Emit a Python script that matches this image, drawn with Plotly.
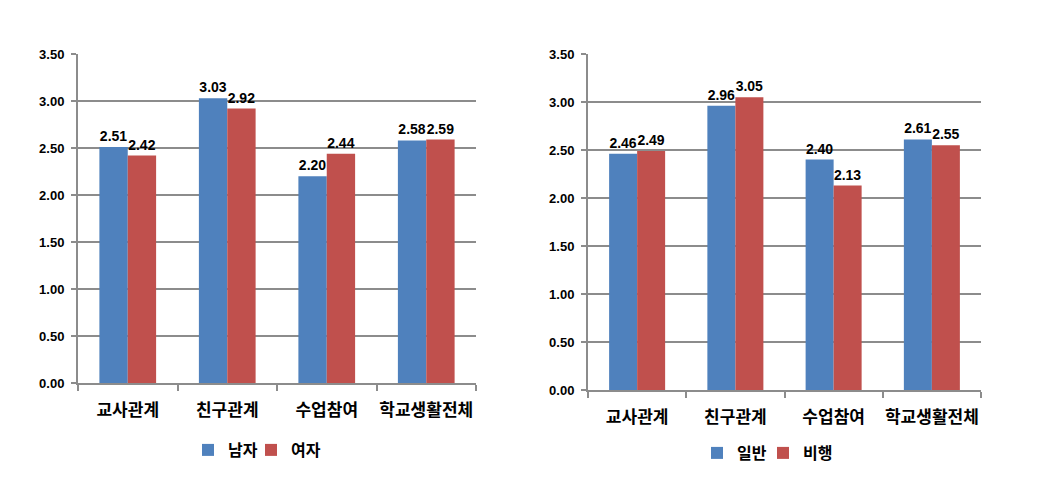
import plotly.graph_objects as go

categories = ["교사관계", "친구관계", "수업참여", "학교생활전체"]
male = [2.51, 3.03, 2.20, 2.58]
female = [2.42, 2.92, 2.44, 2.59]
normal = [2.46, 2.96, 2.40, 2.61]
delinquent = [2.49, 3.05, 2.13, 2.55]
y_ticks = [0, 0.5, 1.0, 1.5, 2.0, 2.5, 3.0, 3.5]

BLUE = "#4F81BD"
RED = "#C0504D"
GRID = "#8c8c8c"
KFONT = "Noto Sans CJK KR"
NFONT = "Liberation Sans"

fig = go.Figure()

def add_bar(name, vals, color, xa, ya, legend):
    fig.add_trace(go.Bar(
        x=categories, y=vals, name=name, marker=dict(color=color, line=dict(width=0)),
        xaxis=xa, yaxis=ya, legend=legend,
        texttemplate="%{y:.2f}", textposition="outside", constraintext="none",
        cliponaxis=False,
        textfont=dict(family=NFONT, size=14, color="black", weight="bold"),
    ))

add_bar("남자", male, BLUE, "x", "y", "legend")
add_bar("여자", female, RED, "x", "y", "legend2")
add_bar("일반", normal, BLUE, "x2", "y2", "legend3")
add_bar("비행", delinquent, RED, "x2", "y2", "legend4")

W, H = 1058, 486

def xaxis(domain, anchor):
    return dict(domain=domain, anchor=anchor, type="category", automargin=False,
                showline=True, linecolor=GRID, linewidth=2, tickangle=0,
                ticks="outside", tickson="boundaries", ticklen=6, tickcolor=GRID, tickwidth=1.5,
                tickfont=dict(family=KFONT, size=17, color="black", weight="bold"),
                ticklabelstandoff=11,
                showgrid=False, fixedrange=True)

def yaxis(domain, anchor):
    return dict(domain=domain, anchor=anchor, range=[0, 3.5], tickvals=y_ticks, automargin=False,
                tickformat=".2f", showline=True, linecolor=GRID, linewidth=2,
                ticks="outside", ticklen=5, tickcolor=GRID, tickwidth=1.5,
                showgrid=True, gridcolor=GRID, gridwidth=1.5, zeroline=False,
                tickfont=dict(family=NFONT, size=13, color="black", weight="bold"),
                ticklabelstandoff=4, fixedrange=True)

legend_common = dict(orientation="h", xanchor="left", yanchor="middle",
                     font=dict(family=KFONT, size=16, color="black", weight="bold"),
                     itemwidth=30, tracegroupgap=0, bgcolor="rgba(0,0,0,0)")

OFF = 14
fig.update_layout(
    width=W, height=H, autosize=False,
    margin=dict(l=0, r=0, t=0, b=0, autoexpand=False),
    paper_bgcolor="white", plot_bgcolor="white",
    barmode="group", bargap=0.43, bargroupgap=0,
    xaxis=xaxis([78 / W, 476 / W], "y"),
    yaxis=yaxis([(H - 383) / H, (H - 54) / H], "x"),
    xaxis2=xaxis([588 / W, 981 / W], "y2"),
    yaxis2=yaxis([(H - 390) / H, (H - 54) / H], "x2"),
    legend=dict(legend_common, x=(202 - OFF) / W, y=1 - 450 / H),
    legend2=dict(legend_common, x=(265 - OFF) / W, y=1 - 450 / H),
    legend3=dict(legend_common, x=(711 - OFF) / W, y=1 - 453 / H),
    legend4=dict(legend_common, x=(777 - OFF) / W, y=1 - 453 / H),
    showlegend=True,
)

fig.write_html("out.html")
